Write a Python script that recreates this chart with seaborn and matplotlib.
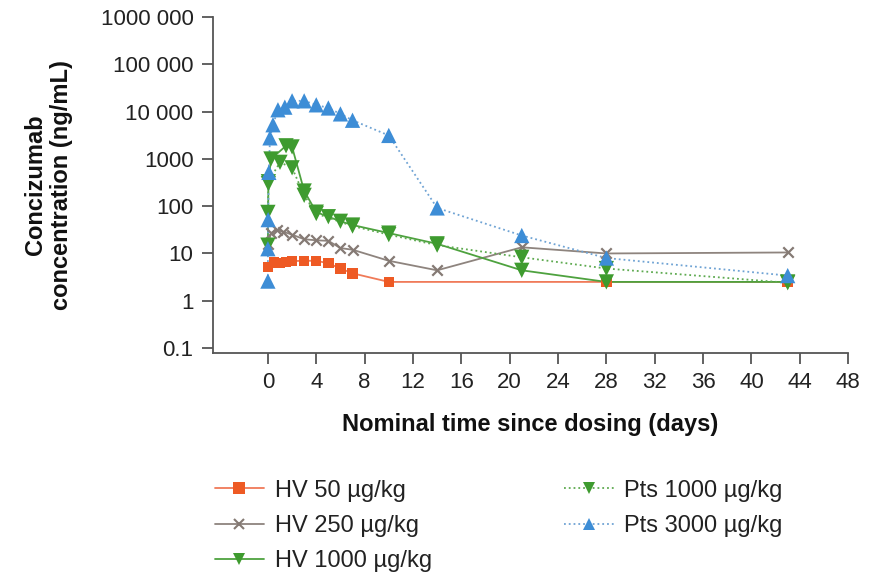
import matplotlib
matplotlib.use("Agg")
import matplotlib.pyplot as plt
import matplotlib.ticker as mticker
import seaborn as sns
import numpy as np

sns.set_theme(style="ticks")
plt.rcParams["font.family"] = ["Liberation Sans", "DejaVu Sans"]

# Concizumab plasma concentration (ng/mL) vs nominal time (days)
hv50_t = [0.0, 0.5, 1.0, 1.5, 2.0, 3.0, 4.0, 5.0, 6.0, 7.0, 10.0, 28.0, 43.0]
hv50_c = [5.2, 6.5, 6.2, 6.6, 6.9, 7.0, 7.0, 6.2, 4.8, 3.8, 2.5, 2.5, 2.5]

hv250_t = [0.04, 0.25, 0.75, 1.25, 2.0, 3.0, 4.0, 5.0, 6.0, 7.0, 10.0, 14.0, 21.0, 28.0, 43.0]
hv250_c = [16, 27, 31, 29, 25, 20, 19, 18.5, 13, 12, 7, 4.4, 13.5, 10, 10.5]

hv1000_t = [0.0, 0.04, 0.25, 1.5, 2.0, 3.0, 4.0, 5.0, 6.0, 7.0, 10.0, 14.0, 21.0, 28.0, 43.0]
hv1000_c = [15, 300, 1000, 1900, 1800, 210, 75, 60, 48, 40, 27, 16, 4.4, 2.5, 2.5]

pts1000_t = [0.0, 0.04, 1.0, 2.0, 3.0, 4.0, 7.0, 10.0, 14.0, 21.0, 28.0, 43.0]
pts1000_c = [74, 330, 850, 650, 170, 70, 38, 25, 15, 8.3, 4.8, 2.4]

pts3000_t = [0.0, 0.0, 0.02, 0.08, 0.17, 0.42, 0.83, 1.4, 2.0, 3.0, 4.0, 5.0, 6.0, 7.0, 10.0, 14.0, 21.0, 28.0, 43.0]
pts3000_c = [2.6, 12.6, 52, 520, 2800, 5300, 11000, 12500, 17000, 17000, 14000, 12000, 9000, 6600, 3150, 92, 24, 8.0, 3.4]

labels = ["HV 50 µg/kg", "HV 250 µg/kg", "HV 1000 µg/kg", "Pts 1000 µg/kg", "Pts 3000 µg/kg"]
y_ticks = [0.1, 1, 10, 100, 1000, 10000, 100000, 1000000]
y_tick_labels = ["0.1", "1", "10", "100", "1000", "10 000", "100 000", "1000 000"]
x_ticks = list(range(0, 49, 4))

series = [
    (hv50_t, hv50_c, "#EE5A24", "s", "-", 7.5, "#F07A58"),
    (hv250_t, hv250_c, "#857A74", "x", "-", 7.5, "#8E847E"),
    (hv1000_t, hv1000_c, "#3E9B2F", "v", "-", 11, "#4EA23F"),
    (pts1000_t, pts1000_c, "#3E9B2F", "v", ":", 11, "#5EAA50"),
    (pts3000_t, pts3000_c, "#3D8DD6", "^", ":", 11, "#6FA3D4"),
]

fig = plt.figure(figsize=(8.69, 5.75), dpi=100)
ax = fig.add_axes([0.245, 0.386, 0.731, 0.584])

handles = []
for (t, c, col, mk, ls, ms, lcol), lab in zip(series, labels):
    sns.lineplot(x=t, y=c, ax=ax, color=lcol, linestyle=ls, linewidth=1.3,
                 estimator=None, sort=False, legend=False)
    sns.scatterplot(x=t, y=c, ax=ax, color=col, marker=mk, s=ms ** 2,
                    linewidth=1.6 if mk == "x" else 0, edgecolor=col if mk == "x" else "none",
                    legend=False, zorder=3)
    h, = ax.plot([], [], color=lcol, linestyle=ls, linewidth=1.3, marker=mk,
                 markersize=8 if mk != "x" else 6.5, markerfacecolor=col, markeredgecolor=col,
                 markeredgewidth=1.5 if mk == "x" else 0)
    handles.append(h)

ax.set_yscale("log")
ax.set_ylim(0.078, 1000000)
ax.set_xlim(-4.55, 48)
ax.set_yticks(y_ticks)
ax.set_yticklabels(y_tick_labels)
ax.yaxis.set_minor_locator(mticker.NullLocator())
ax.set_xticks(x_ticks)
ax.set_xticklabels([str(v) for v in x_ticks])

for side in ["top", "right"]:
    ax.spines[side].set_visible(False)
for side in ["left", "bottom"]:
    ax.spines[side].set_color("#555555")
    ax.spines[side].set_linewidth(1.3)
ax.tick_params(axis="both", direction="out", length=8, width=1.3, color="#555555",
               labelsize=16, labelcolor="#222222", pad=6)

ax.set_xlabel("Nominal time since dosing (days)", fontsize=17, fontweight="bold",
              color="#111111", labelpad=14)
ax.set_ylabel("Concizumab\nconcentration (ng/mL)", fontsize=17, fontweight="bold",
              color="#111111", labelpad=20, linespacing=1.15)

fig.legend(handles, labels, ncol=2, loc="upper left", bbox_to_anchor=(0.247, 0.166),
           frameon=False, fontsize=17, handlelength=2.1, handletextpad=0.45,
           columnspacing=5.6, labelspacing=0.56, borderpad=0, borderaxespad=0,
           labelcolor="#222222")

fig.savefig("out.png", dpi=100, facecolor="white")
